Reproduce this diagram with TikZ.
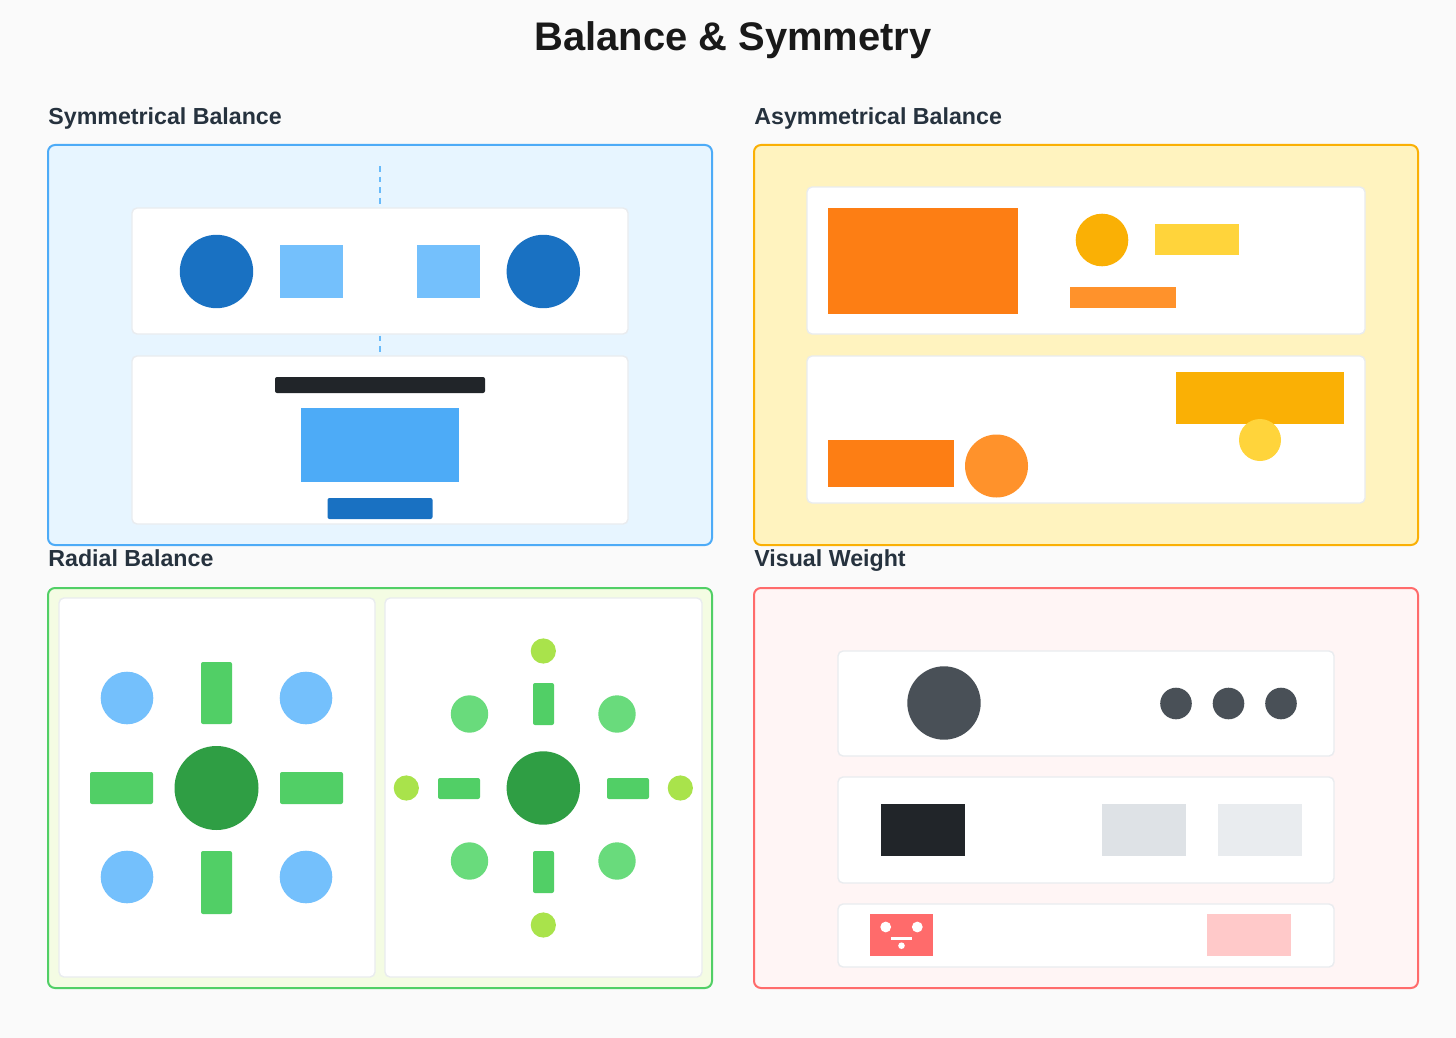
\documentclass[tikz,border=0pt]{standalone}
\usepackage{fontspec}
\setmainfont{Liberation Sans}
\definecolor{pagebg}{HTML}{FAFAFA}
\definecolor{cardline}{HTML}{E9ECEF}
\definecolor{headtext}{HTML}{26323E}
\definecolor{blueline}{HTML}{4DABF7}
\definecolor{bluebg}{HTML}{E7F5FF}
\definecolor{bluedark}{HTML}{1971C2}
\definecolor{bluelight}{HTML}{74C0FC}
\definecolor{yellowline}{HTML}{FAB005}
\definecolor{yellowbg}{HTML}{FFF3BF}
\definecolor{yellowlight}{HTML}{FFD43B}
\definecolor{orangedark}{HTML}{FD7E14}
\definecolor{orangelight}{HTML}{FF922B}
\definecolor{greenline}{HTML}{51CF66}
\definecolor{greenbg}{HTML}{F4FCE3}
\definecolor{greendark}{HTML}{2F9E44}
\definecolor{greenlight}{HTML}{69DB7C}
\definecolor{lime}{HTML}{A9E34B}
\definecolor{redline}{HTML}{FF6B6B}
\definecolor{redbg}{HTML}{FFF5F5}
\definecolor{redlight}{HTML}{FFC9C9}
\definecolor{inkdark}{HTML}{212529}
\definecolor{inkgrey}{HTML}{495057}
\definecolor{greymid}{HTML}{DEE2E6}
\tikzset{
	panel/.style={line width=1pt, rounded corners=3.5pt},
	card/.style={draw=cardline, fill=white, line width=0.7pt, rounded corners=2.5pt},
	heading/.style={anchor=base west, inner sep=0pt, text=headtext, font=\fontsize{11.6}{14}\selectfont\bfseries},
}
\begin{document}
\begin{tikzpicture}[x=0.5pt, y=-0.5pt]
	\fill[pagebg] (0,0) rectangle (1456,1038);
	\useasboundingbox (0,0) rectangle (1456,1038);
	\node[anchor=base, inner sep=0pt, text=black!90, font=\fontsize{19.95}{24}\selectfont\bfseries] (title) at (733,51) {Balance \& Symmetry};

	\node[heading] (symlabel) at (48,124.5) {Symmetrical Balance};
	\node[heading] (asymlabel) at (754,124.5) {Asymmetrical Balance};
	\node[heading] (radiallabel) at (48,566.5) {Radial Balance};
	\node[heading] (weightlabel) at (754,566.5) {Visual Weight};

	% symmetrical
	\draw[panel, draw=blueline, fill=bluebg] (48,145) rectangle (712,545);
	\draw[bluelight!70!blueline, line width=1.3pt, dash pattern=on 2.9pt off 2.4pt] (380,166) -- (380,356);
	\draw[card] (132,208) rectangle (628,334);
	\draw[card] (132,356) rectangle (628,524);
	\fill[bluedark] (216.5,271.5) circle (36.7);
	\fill[bluelight] (280,245) rectangle (343,298);
	\fill[bluelight] (417,245) rectangle (480,298);
	\fill[bluedark] (543.3,271.5) circle (36.7);
	\fill[inkdark, rounded corners=1pt] (275,377) rectangle (485,393);
	\fill[blueline] (301,408) rectangle (459,482);
	\fill[bluedark, rounded corners=1pt] (327.5,498) rectangle (432.5,519);

	% asymmetrical
	\draw[panel, draw=yellowline, fill=yellowbg] (754,145) rectangle (1418,545);
	\draw[card] (807,187) rectangle (1365,334);
	\draw[card] (807,356) rectangle (1365,503);
	\fill[orangedark] (828,208) rectangle (1018,314);
	\fill[yellowline] (1102,240) circle (26.3);
	\fill[yellowlight] (1155,224) rectangle (1239,255);
	\fill[orangelight] (1070,287) rectangle (1176,308);
	\fill[yellowline] (1176,372) rectangle (1344,424);
	\fill[yellowlight] (1260,440) circle (21);
	\fill[orangedark] (828,440) rectangle (954,487);
	\fill[orangelight] (996.5,466) circle (31.5);

	% radial
	\draw[panel, draw=greenline, fill=greenbg] (48,588) rectangle (712,988);
	\draw[card] (59,598) rectangle (375,977);
	\draw[card] (385,598) rectangle (702,977);
	\fill[greendark] (216.5,788) circle (42);
	\fill[greenline, rounded corners=1pt] (201,662) rectangle (232,724);
	\fill[greenline, rounded corners=1pt] (201,851) rectangle (232,914);
	\fill[greenline, rounded corners=1pt] (90,772) rectangle (153,804);
	\fill[greenline, rounded corners=1pt] (280,772) rectangle (343,804);
	\fill[bluelight] (127,698) circle (26.3);
	\fill[bluelight] (306,698) circle (26.3);
	\fill[bluelight] (127,877) circle (26.3);
	\fill[bluelight] (306,877) circle (26.3);
	\fill[greendark] (543.3,788) circle (36.7);
	\fill[greenline, rounded corners=1pt] (533,683) rectangle (554,725);
	\fill[greenline, rounded corners=1pt] (533,851) rectangle (554,893);
	\fill[greenline, rounded corners=1pt] (438,778) rectangle (480,799);
	\fill[greenline, rounded corners=1pt] (607,778) rectangle (649,799);
	\fill[greenlight] (469.5,714) circle (18.7);
	\fill[greenlight] (617,714) circle (18.7);
	\fill[greenlight] (469.5,861) circle (18.7);
	\fill[greenlight] (617,861) circle (18.7);
	\fill[lime] (543.3,651) circle (12.6);
	\fill[lime] (543.3,925) circle (12.6);
	\fill[lime] (406.3,788) circle (12.6);
	\fill[lime] (680.3,788) circle (12.6);

	% weight
	\draw[panel, draw=redline, fill=redbg] (754,588) rectangle (1418,988);
	\draw[card] (838,651) rectangle (1334,756);
	\draw[card] (838,777) rectangle (1334,883);
	\draw[card] (838,904) rectangle (1334,967);
	\fill[inkgrey] (944,703) circle (36.7);
	\fill[inkgrey] (1176,703.5) circle (15.8);
	\fill[inkgrey] (1228.5,703.5) circle (15.8);
	\fill[inkgrey] (1281,703.5) circle (15.8);
	\fill[inkdark] (881,804) rectangle (965,856);
	\fill[greymid] (1102,804) rectangle (1186,856);
	\fill[cardline] (1218,804) rectangle (1302,856);
	\fill[redline] (870,914) rectangle (933,956);
	\fill[white] (885.7,927) circle (5.4);
	\fill[white] (917.3,927) circle (5.4);
	\fill[white] (891,937.2) rectangle (912.3,940.2);
	\fill[white] (901.5,945.7) circle (3.3);
	\fill[redlight] (1207,914) rectangle (1291,956);
\end{tikzpicture}
\end{document}
